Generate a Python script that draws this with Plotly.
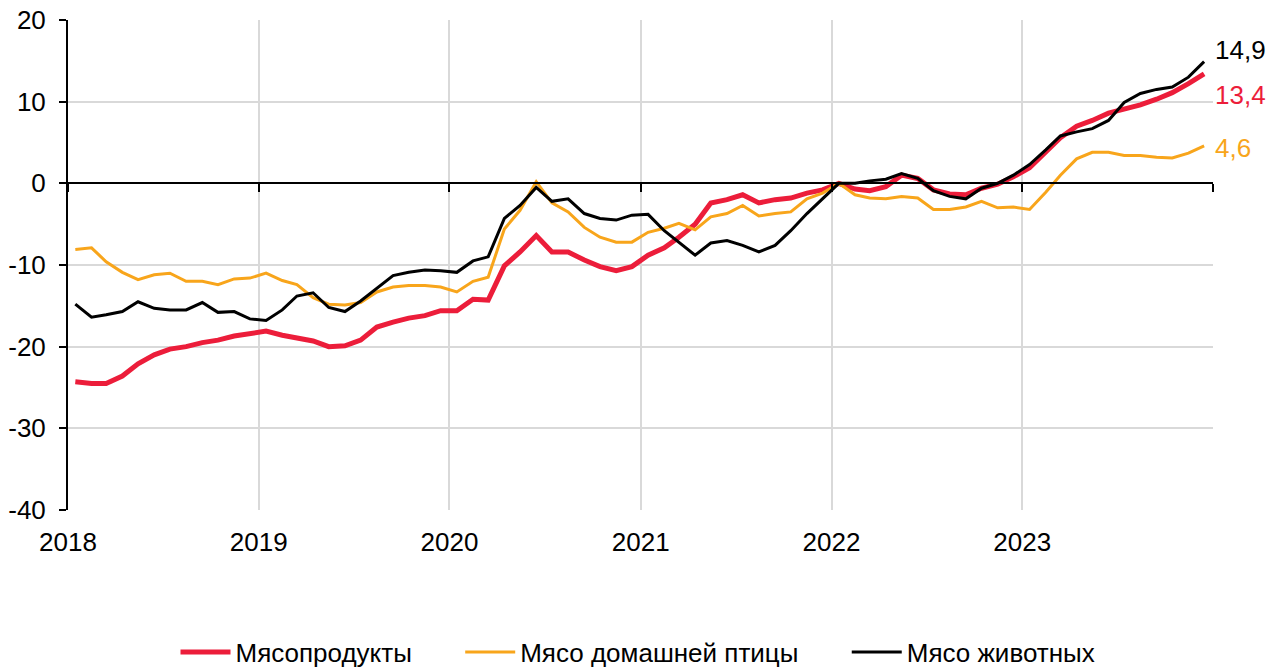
import pandas as pd
import plotly.graph_objects as go

# monthly points, Dec 2017 .. Nov 2023 (plotted mid-month)
months = pd.date_range("2017-12-15", periods=72, freq="MS") + pd.Timedelta(days=14)

meat_products = [
    -24.3,
    -24.5, -24.5, -23.6, -22.1, -21.0, -20.3, -20.0, -19.5, -19.2, -18.7, -18.4, -18.1,
    -18.6, -18.9, -19.3, -20.0, -19.9, -19.2, -17.6, -17.0, -16.5, -16.2, -15.6, -15.6,
    -14.2, -14.3, -10.1, -8.4, -6.4, -8.4, -8.4, -9.4, -10.2, -10.7, -10.2, -8.8,
    -7.9, -6.6, -5.0, -2.4, -2.0, -1.4, -2.4, -2.0, -1.8, -1.2, -0.8, 0.0,
    -0.7, -0.9, -0.4, 1.0, 0.6, -0.8, -1.3, -1.4, -0.6, -0.1, 0.8, 1.9,
    3.8, 5.6, 7.0, 7.7, 8.6, 9.1, 9.6, 10.3, 11.1, 12.2, 13.4,
]
poultry = [
    -8.1,
    -7.9, -9.6, -10.9, -11.8, -11.2, -11.0, -12.0, -12.0, -12.4, -11.7, -11.6, -11.0,
    -11.9, -12.4, -14.0, -14.8, -14.9, -14.6, -13.3, -12.7, -12.5, -12.5, -12.7, -13.3,
    -12.0, -11.5, -5.6, -3.3, 0.2, -2.4, -3.5, -5.4, -6.6, -7.2, -7.2, -6.0,
    -5.5, -4.9, -5.7, -4.1, -3.7, -2.7, -4.0, -3.7, -3.5, -1.9, -1.2, 0.0,
    -1.4, -1.8, -1.9, -1.6, -1.8, -3.2, -3.2, -2.9, -2.2, -3.0, -2.9, -3.2,
    -1.1, 1.0, 3.0, 3.8, 3.8, 3.4, 3.4, 3.2, 3.1, 3.7, 4.6,
]
livestock = [
    -14.8,
    -16.4, -16.1, -15.7, -14.5, -15.3, -15.5, -15.5, -14.6, -15.8, -15.7, -16.6, -16.8,
    -15.5, -13.8, -13.4, -15.2, -15.7, -14.4, -12.9, -11.3, -10.9, -10.6, -10.7, -10.9,
    -9.5, -9.0, -4.3, -2.7, -0.5, -2.2, -1.9, -3.7, -4.3, -4.5, -3.9, -3.8,
    -5.8, -7.2, -8.8, -7.3, -7.0, -7.6, -8.4, -7.6, -5.8, -3.7, -1.9, 0.0,
    0.0, 0.3, 0.5, 1.2, 0.6, -0.9, -1.6, -1.9, -0.6, 0.0, 1.0, 2.3,
    4.1, 5.8, 6.3, 6.7, 7.7, 9.9, 11.0, 11.5, 11.8, 13.0, 14.9,
]

year_ticks = ["2018-01-01", "2019-01-01", "2020-01-01", "2021-01-01",
              "2022-01-01", "2023-01-01", "2024-01-01"]
year_labels = ["2018", "2019", "2020", "2021", "2022", "2023", ""]
y_ticks = [-40, -30, -20, -10, 0, 10, 20]
y_labels = ["-40", "-30", "-20", "-10", "0", "10", "20"]

series = [
    ("Мясопродукты", meat_products, "#EC1D3A", 5, -21),
    ("Мясо домашней птицы", poultry, "#F8A51B", 3, -2),
    ("Мясо животных", livestock, "#000000", 3, 12),
]

FONT = "Liberation Sans, Arial, sans-serif"
PAD = "\u00a0" * 6  # extra room between legend entries

fig = go.Figure()
for i, (name, vals, color, width, shift) in enumerate(series):
    label = name + (PAD if i < len(series) - 1 else "")
    fig.add_trace(go.Scatter(x=months, y=vals, name=label, mode="lines",
                             line=dict(color=color, width=width)))
    fig.add_annotation(x=1, xref="paper", y=vals[-1], yref="y",
                       text=f"{vals[-1]:.1f}".replace(".", ","),
                       showarrow=False, xanchor="left", yshift=shift,
                       font=dict(color=color, size=26, family=FONT))

# empty trace so the zero-line axis (with its tick marks) gets drawn
fig.add_trace(go.Scatter(x=months, y=[None] * len(months), xaxis="x2",
                         showlegend=False, hoverinfo="skip"))

fig.update_layout(
    width=1276, height=667,
    margin=dict(l=68, r=63, t=20, b=157),
    plot_bgcolor="white", paper_bgcolor="white",
    font=dict(family=FONT, size=26, color="#000"),
    legend=dict(orientation="h", x=0.5, xanchor="center", xref="container",
                y=15 / 667, yanchor="middle", yref="container",
                font=dict(size=26), itemwidth=50),
    xaxis=dict(type="date", range=["2018-01-01", "2024-01-01"],
               tickvals=year_ticks, ticktext=year_labels, automargin=False,
               showgrid=True, gridcolor="#d9d9d9", gridwidth=2,
               showline=False, ticks="", ticklabelstandoff=14, zeroline=False,
               ticklabeloverflow="allow"),
    xaxis2=dict(type="date", overlaying="x", matches="x", anchor="free", position=40 / 60,
                tickvals=year_ticks, showticklabels=False, showgrid=False, automargin=False,
                showline=True, linecolor="#000", linewidth=2,
                ticks="outside", ticklen=8, tickwidth=2, tickcolor="#000"),
    yaxis=dict(range=[-40, 20], tickvals=y_ticks, ticktext=y_labels, automargin=False,
               showgrid=True, gridcolor="#d9d9d9", gridwidth=2,
               zeroline=False, showline=True, linecolor="#000", linewidth=2,
               ticks="outside", ticklen=7, tickwidth=2, tickcolor="#000",
               ticklabelstandoff=8, ticklabeloverflow="allow"),
)

# drop the default 8px page margin so the figure fills the window exactly
fig.write_html("out.html", config={"displayModeBar": False},
               post_script="document.body.style.margin = '0';")
